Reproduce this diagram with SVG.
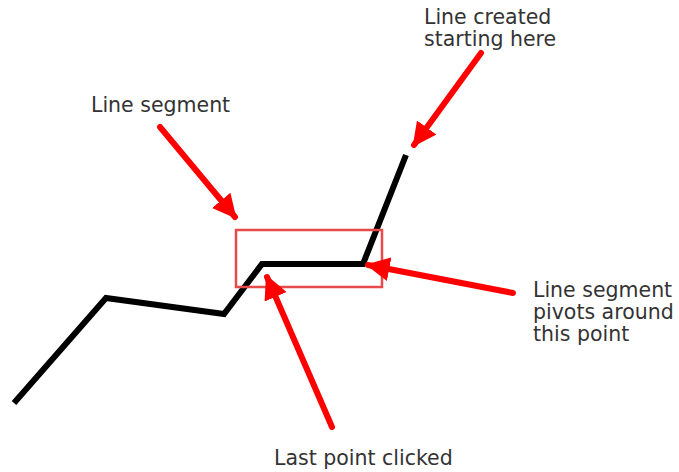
<svg xmlns="http://www.w3.org/2000/svg" width="679" height="472" viewBox="0 0 679 472">
<style>
.lbl{font-family:"DejaVu Sans",Verdana,sans-serif;font-size:20.5px;fill:#333}
.arr{stroke:#ff0000;stroke-width:6;stroke-linecap:round;fill:none}
</style>
<defs>
<marker id="ah" viewBox="0 0 10 10" refX="9" refY="5" markerWidth="4" markerHeight="4" orient="auto" markerUnits="strokeWidth">
<path d="M0,0 L10,5 L0,10 z" fill="#ff0000"/>
</marker>
</defs>
<rect width="679" height="472" fill="#fff"/>
<g id="polyline">
<polyline points="14,403 106,298 224,314 262,264 363,264 406,155" fill="none" stroke="#000" stroke-width="6" stroke-linejoin="miter"/>
</g>
<g id="highlight">
<rect x="236" y="230" width="146" height="57" fill="none" stroke="#e84a4a" stroke-width="2.5"/>
</g>
<g id="connectors">
<line class="arr" x1="481" y1="53" x2="414" y2="145" marker-end="url(#ah)"/>
<line class="arr" x1="160" y1="127" x2="235" y2="217" marker-end="url(#ah)"/>
<line class="arr" x1="513" y1="293" x2="368" y2="265" marker-end="url(#ah)"/>
<line class="arr" x1="332" y1="427" x2="267" y2="277" marker-end="url(#ah)"/>
</g>
<g id="label-created">
<text class="lbl" x="424" y="24">Line created</text>
<text class="lbl" x="424" y="46">starting here</text>
</g>
<g id="label-segment">
<text class="lbl" x="91" y="112">Line segment</text>
</g>
<g id="label-pivot">
<text class="lbl" x="533" y="297">Line segment</text>
<text class="lbl" x="533" y="319">pivots around</text>
<text class="lbl" x="533" y="341">this point</text>
</g>
<g id="label-last">
<text class="lbl" x="274" y="465">Last point clicked</text>
</g>
</svg>
